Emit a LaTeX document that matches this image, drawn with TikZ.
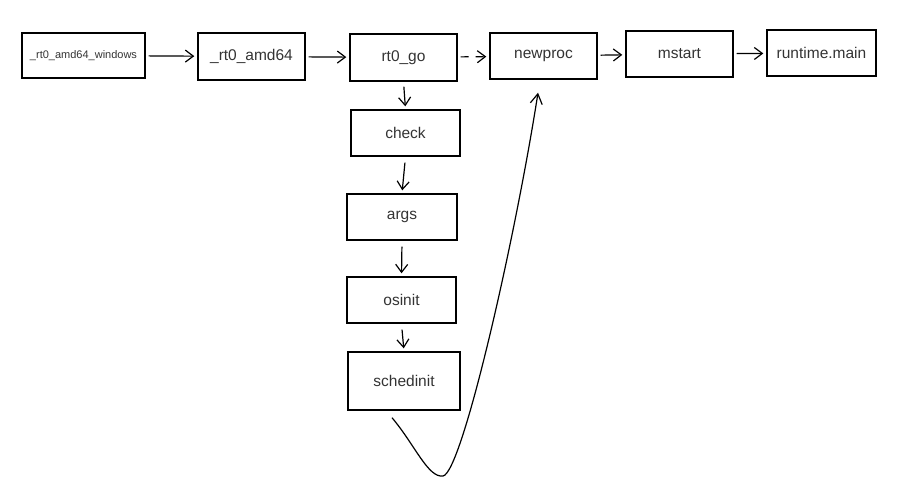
\documentclass[tikz,border=0pt]{standalone}
\usepackage{fontspec}
\setmainfont{Liberation Sans}
\usetikzlibrary{arrows.meta,calc}
\definecolor{txt}{HTML}{333333}
\tikzset{
  box/.style={draw=black, line width=1.4pt, rectangle, inner sep=0pt, text=txt, font=\fontsize{15.5}{17}\selectfont},
  conn/.style={draw=black, line width=1.2pt, -{Straight Barb[length=8pt,width=12pt,line width=1.2pt]}, shorten <=3pt, shorten >=3pt}
}
\begin{document}
\begin{tikzpicture}[x=1pt,y=-1pt]
\useasboundingbox (0,0) rectangle (915,496);
\node[box, minimum width=123pt, minimum height=45pt, font=\fontsize{11}{13}\selectfont] (win) at (83.5,55.5) {\_rt0\_amd64\_windows};
\node[box, minimum width=107pt, minimum height=47pt] (amd) at (251.5,56.5) {\_rt0\_amd64};
\node[box, minimum width=107pt, minimum height=47pt] (go) at (403.5,57.5) {rt0\_go};
\node[box, minimum width=107pt, minimum height=46pt] (newproc) at (543.5,56) {newproc};
\node[box, minimum width=107pt, minimum height=46pt] (mstart) at (679.5,54) {mstart};
\node[box, minimum width=109pt, minimum height=46pt] (rmain) at (821.5,53) {runtime.main};
\node[box, minimum width=109pt, minimum height=46pt] (check) at (405.5,133) {check};
\node[box, minimum width=110pt, minimum height=46pt] (args) at (402,217) {args};
\node[box, minimum width=109pt, minimum height=46pt] (osinit) at (401.5,300) {osinit};
\node[box, minimum width=112pt, minimum height=58pt] (sched) at (404,381) {schedinit};

\draw[conn] (win) -- (amd);
\draw[conn] (amd) -- (go);
\draw[conn, dash pattern=on 8pt off 7pt] (go) -- (newproc);
\draw[conn] (newproc) -- (mstart);
\draw[conn] (mstart) -- (rmain);
\draw[conn, shorten <=5pt] (go.south) -- (check.north);
\draw[conn, shorten <=6pt] (check.south) -- (args.north);
\draw[conn, shorten <=6pt] (args.south) -- (osinit.north);
\draw[conn, shorten <=6pt] (osinit.south) -- (sched.north);

\coordinate (cs) at ($(sched.south)+(-12,7)$);
\coordinate (ce) at ($(newproc.south)+(-5.5,13)$);
\draw[draw=black, line width=1.2pt, -{Straight Barb[length=10pt,width=12pt,line width=1.2pt]}]
  (cs) .. controls (415,445) and (428,478) .. (443,476)
       .. controls (462,473) and (515,240) .. (ce);
\end{tikzpicture}
\end{document}
